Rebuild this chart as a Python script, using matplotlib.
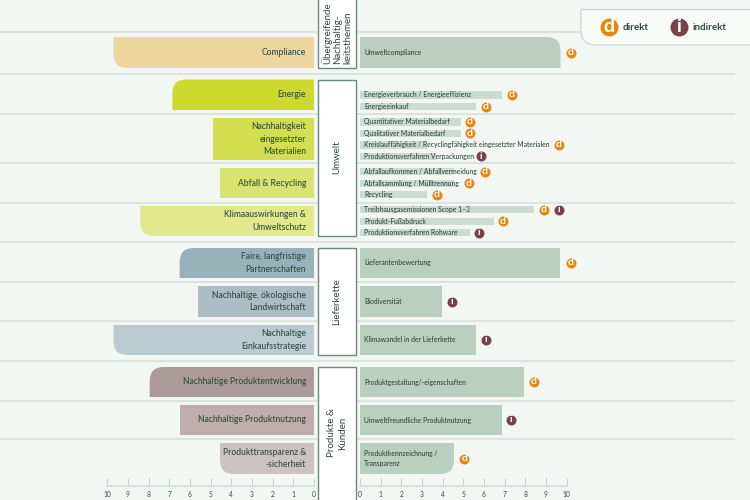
import matplotlib
matplotlib.use('Agg')
import matplotlib.pyplot as plt
from matplotlib.patches import PathPatch, Rectangle
from matplotlib.path import Path

plt.rcParams['font.family'] = ['Lato', 'DejaVu Sans']

# data
leftLabels = ['Compliance', 'Energie', 'Nachhaltigkeit\neingesetzter\nMaterialien', 'Abfall & Recycling',
              'Klimaauswirkungen &\nUmweltschutz', 'Faire, langfristige\nPartnerschaften',
              'Nachhaltige, ökologische\nLandwirtschaft', 'Nachhaltige\nEinkaufsstrategie',
              'Nachhaltige Produktentwicklung', 'Nachhaltige Produktnutzung', 'Produkttransparenz &\n-sicherheit']
leftValues = [9.7, 6.85, 4.9, 4.55, 8.4, 6.5, 5.6, 9.7, 7.95, 6.5, 4.55]

rightLabels = ['Umweltcompliance', 'Energieverbrauch / Energieeffizienz', 'Energieeinkauf',
               'Quantitativer Materialbedarf', 'Qualitativer Materialbedarf',
               'Kreislauffähigkeit / Recyclingfähigkeit eingesetzter Materialen',
               'Produktionsverfahren Verpackungen', 'Abfallaufkommen / Abfallvermeidung',
               'Abfallsammlung / Mülltrennung', 'Recycling', 'Treibhausgasemissionen Scope 1–3',
               'Produkt-Fußabdruck', 'Produktionsverfahren Rohware', 'Lieferantenbewertung', 'Biodiversität',
               'Klimawandel in der Lieferkette', 'Produktgestaltung/-eigenschaften',
               'Umweltfreundliche Produktnutzung', 'Produktkennzeichnung /\nTransparenz']
rightValues = [9.7, 6.87, 5.6, 4.87, 4.87, 3.25, 3.7, 4.55, 4.55, 3.25, 8.4, 6.5, 5.3, 9.7, 3.95, 5.6, 7.95, 6.87, 4.55]
rightKinds = ['d', 'd', 'd', 'd', 'd', 'd', 'i', 'd', 'd', 'd', 'di', 'd', 'i', 'd', 'i', 'i', 'd', 'i', 'd']

groupLabels = ['Übergreifende\nNachhaltig-\nkeitsthemen', 'Umwelt', 'Lieferkette', 'Produkte &\nKunden']

# layout, all in reference pixels
leftRows = [(37, 68), (79.5, 110), (118, 160), (168, 198), (206, 236), (248, 278), (286, 317), (325, 355),
            (367, 397), (405, 435), (443, 474)]
rightRows = [(37, 68), (91, 98.5), (103, 110), (118, 125.5), (129.5, 137), (141, 148.5), (152.5, 160),
             (168, 175), (179.5, 187), (191, 198), (206, 213), (217.5, 225), (229, 236), (248, 278),
             (286, 317), (325, 355), (367, 397), (405, 435), (443, 474)]
iconX = [571, 511.7, 485.7, 470, 470, 559, 481.3, 485, 469, 436.7, 543.7, 503, 479, 571, 452, 485.7, 533.7, 511.3, 464.3]
leftCorners = ['bottom', 'top', None, None, 'bottom', 'top', None, 'bottom', 'top', None, 'bottom']
rightCorners = ['top'] + [None] * 17 + ['bottom']
leftColors = ['#edd6a0', '#cbda2c', '#d3df50', '#d9e470', '#e2e98c', '#98b2b9', '#abbec4', '#bbccd0',
              '#ab9b9b', '#bdadad', '#cdc2c2']
rightColors = ['#bccec1'] + ['#cddcd2'] * 12 + ['#b9cfbf'] * 6
rowLines = [32, 73.5, 113.7, 163, 202.5, 242, 282, 320.7, 361, 401, 439]
groupBoxes = [(-5, 68), (79.5, 236), (248, 355), (367, 505)]

textColor = '#2f4a3f'
bg = '#f3f7f4'
orange = '#e8870e'
brown = '#7a4247'
gridColor = '#d5dedc'

fig = plt.figure(figsize=(7.5, 5), dpi=100, facecolor=bg)

bgAx = fig.add_axes([0, 0, 1, 1], zorder=1)
bgAx.set_xlim(0, 750)
bgAx.set_ylim(500, 0)
bgAx.axis('off')

leftAx = fig.add_axes([107.3 / 750, 0, (314 - 107.3) / 750, 1], zorder=2)
leftAx.set_xlim(10, 0)
rightAx = fig.add_axes([360 / 750, 0, (566.7 - 360) / 750, 1], zorder=2)
rightAx.set_xlim(0, 10)

iconAx = fig.add_axes([0, 0, 1, 1], zorder=3)
iconAx.set_xlim(0, 750)
iconAx.set_ylim(500, 0)
iconAx.axis('off')

for ax in (leftAx, rightAx):
    ax.set_ylim(500, 0)
    ax.patch.set_visible(False)
    for side in ('top', 'left', 'right'):
        ax.spines[side].set_visible(False)
    ax.spines['bottom'].set_position(('data', 486))
    ax.spines['bottom'].set_color(gridColor)
    ax.spines['bottom'].set_linewidth(1.2)
    ax.set_xticks(range(11))
    ax.tick_params(axis='x', direction='in', length=6, width=0.7, color='#c5cfcc', labelsize=4.8,
                   labelcolor=textColor, pad=3.5)
    ax.set_yticks([])


def drawBar(ax, value, top, bottom, color, corner):
    # bar from 0 to value with one rounded outer corner (radius 14 px)
    if corner is None:
        ax.barh((top + bottom) / 2, value, height=bottom - top, color=color, zorder=2)
        return
    rx = 14 / 20.67
    ry = 14
    if corner == 'top':
        verts = [(0, top), (value - rx, top), (value, top), (value, top + ry), (value, bottom), (0, bottom), (0, top)]
        codes = [Path.MOVETO, Path.LINETO, Path.CURVE3, Path.CURVE3, Path.LINETO, Path.LINETO, Path.CLOSEPOLY]
    else:
        verts = [(0, top), (value, top), (value, bottom - ry), (value, bottom), (value - rx, bottom), (0, bottom), (0, top)]
        codes = [Path.MOVETO, Path.LINETO, Path.LINETO, Path.CURVE3, Path.CURVE3, Path.LINETO, Path.CLOSEPOLY]
    ax.add_patch(PathPatch(Path(verts, codes), facecolor=color, edgecolor='none', zorder=2))


def drawIcon(x, y, kind, r=5.0, size=7.5):
    color = orange if kind == 'd' else brown
    iconAx.scatter([x], [y], s=(2 * r * 0.72) ** 2, color=color, linewidths=0, zorder=3)
    iconAx.text(x, y - 0.2, kind, color='white', fontsize=size, fontweight='bold', ha='center', va='center', zorder=4)


for y in rowLines:
    bgAx.plot([0, 735], [y, y], color=gridColor, lw=1.1, zorder=1, solid_capstyle='butt')

for label, value, row, color, corner in zip(leftLabels, leftValues, leftRows, leftColors, leftCorners):
    drawBar(leftAx, value, row[0], row[1], color, corner)
    leftAx.text(0.39, (row[0] + row[1]) / 2, label, ha='right', va='center', fontsize=6.15, color=textColor,
                linespacing=1.45, zorder=3, fontweight='medium')

for i, label in enumerate(rightLabels):
    row = rightRows[i]
    drawBar(rightAx, rightValues[i], row[0], row[1], rightColors[i], rightCorners[i])
    rightAx.text(0.2, (row[0] + row[1]) / 2, label, ha='left', va='center', fontsize=4.9, color=textColor,
                 linespacing=1.45, zorder=3, fontweight='medium')
    # second icon of a row sits one step further right
    for k, kind in enumerate(rightKinds[i]):
        drawIcon(iconX[i] + k * 15.3, (row[0] + row[1]) / 2, kind)

for box in groupBoxes:
    bgAx.add_patch(Rectangle((318, box[0]), 38, box[1] - box[0], facecolor='white', edgecolor='#6f877c',
                             lw=1.0, zorder=3))
bgAx.text(337, 64, groupLabels[0], rotation=90, ha='center', va='bottom', fontsize=7, color=textColor,
          linespacing=1.2, zorder=4, multialignment='left')
for label, cy in zip(groupLabels[1:], [157, 301.5, 433]):
    bgAx.text(337, cy, label, rotation=90, ha='center', va='center', fontsize=7, color=textColor,
              linespacing=1.2, zorder=4, multialignment='center')

# legend box, open to the right, rounded lower left corner
legendVerts = [(760, 9.5), (581, 9.5), (581, 30), (581, 45), (596, 45), (760, 45)]
legendCodes = [Path.MOVETO, Path.LINETO, Path.LINETO, Path.CURVE3, Path.CURVE3, Path.LINETO]
bgAx.add_patch(PathPatch(Path(legendVerts, legendCodes), facecolor='#f9fbf9', edgecolor='#cfd8d8', lw=1.0, zorder=3))
drawIcon(608.5, 27, 'd', r=9, size=14)
drawIcon(679, 27, 'i', r=9, size=14)
iconAx.text(623, 27, 'direkt', ha='left', va='center', fontsize=7, color=textColor, fontweight='bold')
iconAx.text(692.5, 27, 'indirekt', ha='left', va='center', fontsize=7, color=textColor, fontweight='bold')

fig.savefig('out.png', dpi=100, facecolor=bg)
